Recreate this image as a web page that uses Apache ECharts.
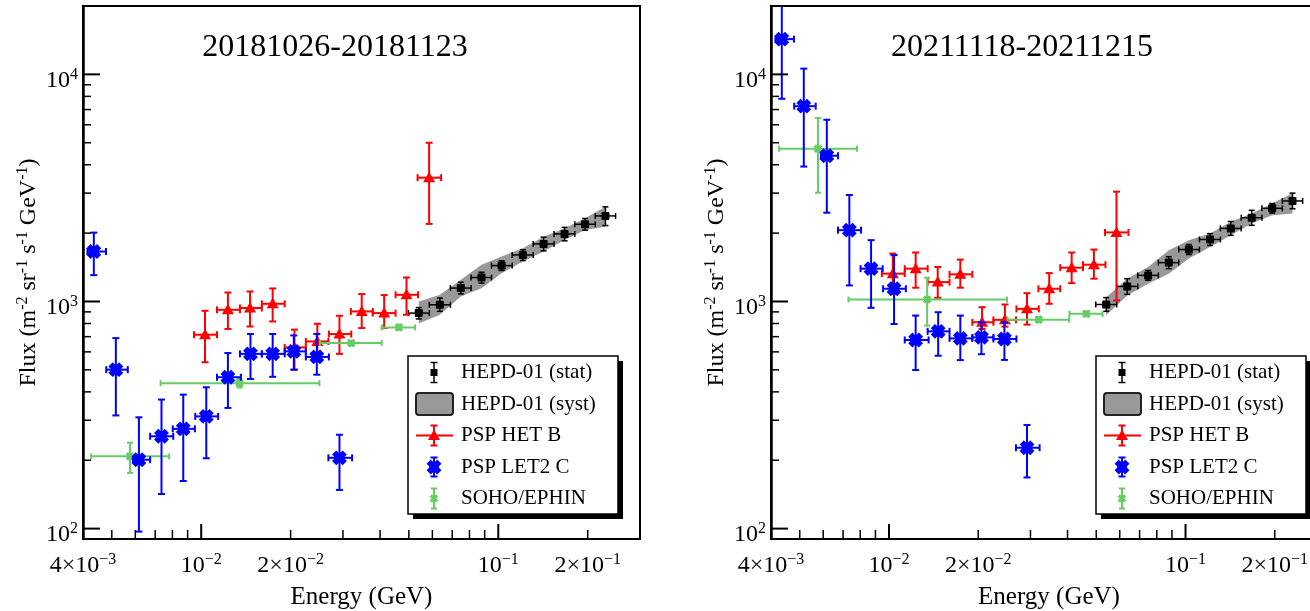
<!DOCTYPE html>
<html>
<head>
<meta charset="utf-8">
<script src="https://cdn.jsdelivr.net/npm/echarts/dist/echarts.min.js"></script>
<style>
html,body{margin:0;padding:0;background:#fff;}
#chart{width:1310px;height:611px;}
</style>
</head>
<body>
<div id="chart"></div>
<script>
// ---------------- DATA ----------------
const panelTitles = ['20181026-20181123', '20211118-20211215'];
const legendLabels = ['HEPD-01 (stat)', 'HEPD-01 (syst)', 'PSP HET B', 'PSP LET2 C', 'SOHO/EPHIN'];

const xTickLabelValues = [0.004, 0.01, 0.02, 0.1, 0.2];
const xMajorTickValues = [0.01, 0.1];
const xMinorTickValues = [0.005, 0.006, 0.007, 0.008, 0.009, 0.02, 0.03, 0.04, 0.05, 0.06, 0.07, 0.08, 0.09, 0.2];
const yTickLabelValues = [100, 1000, 10000];
const yMajorTickValues = [100, 1000, 10000];
const yMinorTickValues = [200, 300, 400, 500, 600, 700, 800, 900, 2000, 3000, 4000, 5000, 6000, 7000, 8000, 9000];

// HEPD-01 energy bins (GeV)
const hepdE   = [0.0540, 0.0636, 0.0748, 0.0878, 0.1026, 0.1210, 0.1421, 0.1672, 0.1960, 0.2295];
const hepdElo = [0.0498, 0.0586, 0.0690, 0.0810, 0.0949, 0.1114, 0.1311, 0.1541, 0.1810, 0.2121];
const hepdEhi = [0.0586, 0.0690, 0.0810, 0.0949, 0.1114, 0.1311, 0.1541, 0.1810, 0.2121, 0.2483];
// 2018 panel
const hepdF_2018      = [889, 967, 1146, 1275, 1439, 1603, 1793, 1984, 2188, 2381];
const hepdStatLo_2018 = [838, 905, 1080, 1205, 1370, 1515, 1670, 1850, 2060, 2160];
const hepdStatHi_2018 = [940, 1035, 1215, 1345, 1510, 1690, 1920, 2120, 2320, 2610];
const hepdSystLo_2018 = [800, 874, 1052, 1145, 1333, 1499, 1658, 1867, 2066, 2136];
const hepdSystHi_2018 = [1000, 1070, 1246, 1450, 1577, 1717, 1930, 2101, 2324, 2616];
// 2021 panel
const hepdF_2021      = [970, 1165, 1303, 1483, 1693, 1875, 2098, 2337, 2572, 2770];
const hepdStatLo_2021 = [905, 1075, 1240, 1395, 1610, 1765, 1955, 2165, 2450, 2560];
const hepdStatHi_2021 = [1040, 1260, 1370, 1575, 1780, 1990, 2250, 2520, 2700, 3000];
const hepdSystLo_2021 = [870, 1063, 1198, 1326, 1545, 1738, 1958, 2206, 2400, 2443];
const hepdSystHi_2021 = [1045, 1260, 1419, 1681, 1861, 1994, 2245, 2443, 2702, 2994];

// PSP HET B
const hetE   = [0.0103, 0.0123, 0.0146, 0.0174, 0.0206, 0.0246, 0.0292, 0.0347, 0.0413, 0.0491, 0.0585];
const hetElo = [0.00946, 0.0113, 0.0135, 0.0160, 0.0191, 0.0225, 0.0269, 0.0319, 0.0378, 0.0451, 0.0535];
const hetEhi = [0.0113, 0.0135, 0.0160, 0.0191, 0.0225, 0.0268, 0.0320, 0.0378, 0.0451, 0.0537, 0.0642];
const hetF_2018  = [714, 919, 936, 977, 628, 667, 719, 904, 889, 1070, 3508];
const hetLo_2018 = [540, 757, 776, 817, 501, 566, 588, 764, 764, 874, 2196];
const hetHi_2018 = [910, 1095, 1107, 1141, 752, 798, 865, 1078, 1067, 1275, 5000];
const hetF_2021  = [1326, 1395, 1217, 1317, 810, 830, 928, 1138, 1409, 1452, 2014];
const hetLo_2021 = [1081, 1150, 1038, 1150, 757, 775, 791, 977, 1205, 1260, 1010];
const hetHi_2021 = [1626, 1643, 1419, 1529, 944, 970, 1088, 1334, 1643, 1693, 3045];

// PSP LET2 C
const letE   = [0.00435, 0.00516, 0.00617, 0.00735, 0.0087, 0.0104, 0.0123, 0.01465, 0.0174, 0.0205, 0.0245, 0.0292];
const letElo = [0.00414, 0.00479, 0.00589, 0.00673, 0.00802, 0.00955, 0.0113, 0.0135, 0.0160, 0.0191, 0.0225, 0.0268];
const letEhi = [0.00478, 0.00566, 0.00673, 0.00805, 0.00952, 0.0114, 0.0136, 0.0160, 0.0191, 0.0225, 0.0269, 0.0322];
const letF_2018  = [1660, 501, 201, 255, 275, 312, 464, 588, 588, 603, 570, 205];
const letLo_2018 = [1306, 315, 97, 142, 162, 204, 340, 456, 466, 501, 476, 148];
const letHi_2018 = [2010, 690, 309, 370, 389, 419, 593, 719, 719, 709, 719, 259];
const letF_2021  = [14290, 7246, 4381, 2061, 1395, 1138, 677, 739, 688, 695, 684, 227];
const letLo_2021 = [7808, 3927, 2460, 1177, 938, 796, 499, 577, 552, 586, 553, 168];
const letHi_2021 = [26000, 10600, 6313, 2944, 1862, 1600, 867, 897, 867, 810, 810, 286];

// SOHO/EPHIN
const sohoE   = [0.00576, 0.01345, 0.0320, 0.0463];
const sohoElo = [0.00426, 0.0073, 0.0251, 0.0406];
const sohoEhi = [0.0078, 0.0250, 0.0405, 0.0525];
const sohoF_2018  = [208, 437, 656, 769];
const sohoLo_2018 = [176, 418, 640, 750];
const sohoHi_2018 = [239, 456, 672, 790];
const sohoF_2021  = [4706, 1020, 832, 882];
const sohoLo_2021 = [3013, 783, 810, 862];
const sohoHi_2021 = [6428, 1273, 855, 905];

// ---------------- STYLE / HELPERS ----------------
const FONT = 'Liberation Serif';
const RED = '#ff0000', BLUE = '#0000ff', GREEN = '#66cc66', BLACK = '#000000', BAND = '#999999';

function sciLabel(v) {
  const e = Math.floor(Math.log10(v) + 1e-9);
  const m = Math.round(v / Math.pow(10, e));
  const base = m === 1 ? '10' : m + '×10';
  const exp = e < 0 ? '−' + (-e) : String(e);
  return '{b|' + base + '}{s|' + exp + '}';
}
const tickRich = {
  b: {fontFamily: FONT, fontSize: 24, lineHeight: 28, color: '#000'},
  s: {fontFamily: FONT, fontSize: 16, lineHeight: 14, verticalAlign: 'top', color: '#000'}
};

function items(E, Elo, Ehi, F, Flo, Fhi) {
  return E.map((e, i) => [e, F[i], Elo[i], Ehi[i], Flo[i], Fhi[i]]);
}

function xcross(cx, cy, r, a, color) {
  const base = [[a, r], [-a, r], [-a, a], [-r, a], [-r, -a], [-a, -a], [-a, -r], [a, -r], [a, -a], [r, -a], [r, a], [a, a]];
  const c = Math.SQRT1_2;
  const pts = base.map(p => [cx + (p[0] - p[1]) * c, cy + (p[0] + p[1]) * c]);
  return {type: 'polygon', shape: {points: pts}, style: {fill: color}};
}
function marker(kind, cx, cy, color) {
  if (kind === 'square') {
    return [{type: 'rect', shape: {x: cx - 4, y: cy - 4, width: 8, height: 8, r: 1}, style: {fill: color}}];
  }
  if (kind === 'triangle') {
    return [{type: 'polygon', shape: {points: [[cx, cy - 6], [cx + 6, cy + 4.5], [cx - 6, cy + 4.5]]}, style: {fill: color}}];
  }
  if (kind === 'blob') {
    return [xcross(cx, cy, 7.5, 3, color), {type: 'circle', shape: {cx: cx, cy: cy, r: 5}, style: {fill: color}}];
  }
  return [xcross(cx, cy, 4.5, 1.6, color)];
}

function makeErrRender(color, kind, lw, cap) {
  return function (params, api) {
    const E = api.value(0), F = api.value(1);
    const c = api.coord([E, F]);
    const xl = api.coord([api.value(2), F])[0];
    const xh = api.coord([api.value(3), F])[0];
    const yt = api.coord([E, api.value(5)])[1];
    const yb = api.coord([E, api.value(4)])[1];
    const ls = {stroke: color, lineWidth: lw};
    const ch = [
      {type: 'line', shape: {x1: xl, y1: c[1], x2: xh, y2: c[1]}, style: ls},
      {type: 'line', shape: {x1: xl, y1: c[1] - cap, x2: xl, y2: c[1] + cap}, style: ls},
      {type: 'line', shape: {x1: xh, y1: c[1] - cap, x2: xh, y2: c[1] + cap}, style: ls},
      {type: 'line', shape: {x1: c[0], y1: yt, x2: c[0], y2: yb}, style: ls},
      {type: 'line', shape: {x1: c[0] - cap, y1: yt, x2: c[0] + cap, y2: yt}, style: ls},
      {type: 'line', shape: {x1: c[0] - cap, y1: yb, x2: c[0] + cap, y2: yb}, style: ls}
    ].concat(marker(kind, c[0], c[1], color));
    return {type: 'group', children: ch};
  };
}

function makeBandRender(E, lo, hi) {
  return function (params, api) {
    if (params.dataIndex !== 0) return null;
    const pts = [];
    for (let i = 0; i < E.length; i++) pts.push(api.coord([E[i], hi[i]]));
    for (let i = E.length - 1; i >= 0; i--) pts.push(api.coord([E[i], lo[i]]));
    return {type: 'polygon', shape: {points: pts}, style: {fill: BAND, stroke: null}};
  };
}

// tick marks drawn through the axis scales (custom series on each grid)
function makeTickRender(axisDim, values, len, lw) {
  return function (params, api) {
    if (params.dataIndex !== 0) return null;
    const ch = [];
    values.forEach(v => {
      if (axisDim === 'x') {
        const p = api.coord([v, YMIN]);
        ch.push({type: 'line', shape: {x1: p[0], y1: p[1], x2: p[0], y2: p[1] - len}, style: {stroke: '#000', lineWidth: lw}});
      } else {
        const p = api.coord([XMIN, v]);
        ch.push({type: 'line', shape: {x1: p[0], y1: p[1], x2: p[0] + len, y2: p[1]}, style: {stroke: '#000', lineWidth: lw}});
      }
    });
    return {type: 'group', children: ch};
  };
}

const panels = [
  {hepd: [hepdF_2018, hepdStatLo_2018, hepdStatHi_2018, hepdSystLo_2018, hepdSystHi_2018],
   het: [hetF_2018, hetLo_2018, hetHi_2018], let: [letF_2018, letLo_2018, letHi_2018], soho: [sohoF_2018, sohoLo_2018, sohoHi_2018]},
  {hepd: [hepdF_2021, hepdStatLo_2021, hepdStatHi_2021, hepdSystLo_2021, hepdSystHi_2021],
   het: [hetF_2021, hetLo_2021, hetHi_2021], let: [letF_2021, letLo_2021, letHi_2021], soho: [sohoF_2021, sohoLo_2021, sohoHi_2021]}
];

const gridDefs = [
  {left: 83, top: 6, width: 557, height: 533},
  {left: 771, top: 6, width: 556, height: 533}
];

const xAxes = [], yAxes = [], series = [], titles = [], graphics = [];
const XMIN = 0.004, XMAX = 0.3, YMIN = 90, YMAX = 20000;

gridDefs.forEach((g, p) => {
  xAxes.push({
    gridIndex: p, type: 'log', logBase: 10, min: XMIN, max: XMAX, position: 'bottom',
    axisLine: {show: true, lineStyle: {color: '#000', width: 2}}, splitLine: {show: false},
    axisTick: {show: false},
    axisLabel: {show: true, customValues: xTickLabelValues, formatter: v => sciLabel(v), rich: tickRich, margin: 13, color: '#000'},
    name: 'Energy (GeV)', nameLocation: 'middle', nameGap: 46,
    nameTextStyle: {fontFamily: FONT, fontSize: 25, color: '#000'}
  });
  yAxes.push({
    gridIndex: p, type: 'log', logBase: 10, min: YMIN, max: YMAX, position: 'left',
    axisLine: {show: true, lineStyle: {color: '#000', width: 2.5}}, splitLine: {show: false},
    axisTick: {show: false},
    axisLabel: {show: true, customValues: yTickLabelValues, formatter: v => sciLabel(v), rich: tickRich, margin: 5, padding: [12, 0, 0, 0], color: '#000'},
    name: '{b|Flux (m}{s|-2}{b| sr}{s|-1}{b| s}{s|-1}{b| GeV}{s|-1}{b|)}',
    nameLocation: 'middle', nameRotate: 90, nameGap: 40,
    nameTextStyle: {fontFamily: FONT, fontSize: 24, color: '#000', rich: {
      b: {fontFamily: FONT, fontSize: 24, lineHeight: 28, color: '#000'},
      s: {fontFamily: FONT, fontSize: 16, lineHeight: 14, verticalAlign: 'top', color: '#000'}
    }}
  });

  const d = panels[p];
  const common = {type: 'custom', xAxisIndex: p, yAxisIndex: p, clip: true, encode: {x: [0, 2, 3], y: [1, 4, 5]}, silent: true};
  series.push(Object.assign({}, common, {
    name: legendLabels[1], data: items(hepdE, hepdElo, hepdEhi, d.hepd[0], d.hepd[3], d.hepd[4]),
    renderItem: makeBandRender(hepdE, d.hepd[3], d.hepd[4])
  }));
  series.push(Object.assign({}, common, {
    name: legendLabels[0], data: items(hepdE, hepdElo, hepdEhi, d.hepd[0], d.hepd[1], d.hepd[2]),
    renderItem: makeErrRender(BLACK, 'square', 1.5, 3)
  }));
  series.push(Object.assign({}, common, {
    name: legendLabels[2], data: items(hetE, hetElo, hetEhi, d.het[0], d.het[1], d.het[2]),
    renderItem: makeErrRender(RED, 'triangle', 2, 3.5)
  }));
  series.push(Object.assign({}, common, {
    name: legendLabels[4], data: items(sohoE, sohoElo, sohoEhi, d.soho[0], d.soho[1], d.soho[2]),
    renderItem: makeErrRender(GREEN, 'star', 2, 3)
  }));
  series.push(Object.assign({}, common, {
    name: legendLabels[3], data: items(letE, letElo, letEhi, d.let[0], d.let[1], d.let[2]),
    renderItem: makeErrRender(BLUE, 'blob', 2, 3.5)
  }));
  const tickCommon = {type: 'custom', xAxisIndex: p, yAxisIndex: p, clip: false, silent: true, data: [[XMIN, YMIN]], encode: {x: 0, y: 1}, z: 5};
  series.push(Object.assign({}, tickCommon, {name: 'xMajorTicks' + p, renderItem: makeTickRender('x', xMajorTickValues, 15, 2)}));
  series.push(Object.assign({}, tickCommon, {name: 'xMinorTicks' + p, renderItem: makeTickRender('x', xMinorTickValues, 9, 1.5)}));
  series.push(Object.assign({}, tickCommon, {name: 'yMajorTicks' + p, renderItem: makeTickRender('y', yMajorTickValues, 17, 2)}));
  series.push(Object.assign({}, tickCommon, {name: 'yMinorTicks' + p, renderItem: makeTickRender('y', yMinorTickValues, 8, 1.5)}));

  titles.push({
    text: panelTitles[p], left: p === 0 ? 335 : 1022, top: 32, textAlign: 'center', padding: 0,
    textStyle: {fontFamily: FONT, fontSize: 32, fontWeight: 'normal', color: '#000'}
  });
});

// legend boxes
function buildLegend(x0, y0) {
  const W = 210, H = 158, ix = 26, tx = 53;
  const rows = [16.5, 48, 79.5, 111, 142.5];
  const ch = [
    {type: 'rect', shape: {x: 5, y: 5, width: W, height: H}, style: {fill: '#000'}},
    {type: 'rect', shape: {x: 0, y: 0, width: W, height: H}, style: {fill: '#fff', stroke: '#000', lineWidth: 1.5}}
  ];
  function vbar(y, color, lw, half, cap) {
    return [
      {type: 'line', shape: {x1: ix, y1: y - half, x2: ix, y2: y + half}, style: {stroke: color, lineWidth: lw}},
      {type: 'line', shape: {x1: ix - cap, y1: y - half, x2: ix + cap, y2: y - half}, style: {stroke: color, lineWidth: lw}},
      {type: 'line', shape: {x1: ix - cap, y1: y + half, x2: ix + cap, y2: y + half}, style: {stroke: color, lineWidth: lw}}
    ];
  }
  ch.push(...vbar(rows[0], BLACK, 1.5, 10, 3.5));
  ch.push({type: 'rect', shape: {x: ix - 3.5, y: rows[0] - 3.5, width: 7, height: 7}, style: {fill: BLACK}});
  ch.push({type: 'rect', shape: {x: ix - 18, y: rows[1] - 11, width: 37, height: 22, r: 3}, style: {fill: BAND, stroke: '#222', lineWidth: 2}});
  ch.push({type: 'line', shape: {x1: ix - 18, y1: rows[2], x2: ix + 19, y2: rows[2]}, style: {stroke: RED, lineWidth: 2}});
  ch.push(...vbar(rows[2], RED, 2, 10, 3.5));
  ch.push(...marker('triangle', ix, rows[2], RED));
  ch.push(...vbar(rows[3], BLUE, 2, 9.5, 3.5));
  ch.push(...marker('blob', ix, rows[3], BLUE));
  ch.push(...vbar(rows[4], GREEN, 2, 10, 3));
  ch.push(...marker('star', ix, rows[4], GREEN));
  legendLabels.forEach((t, i) => {
    ch.push({type: 'text', x: tx, y: rows[i], style: {text: t, fontFamily: FONT, fontSize: 21, fill: '#000', align: 'left', verticalAlign: 'middle'}});
  });
  return {type: 'group', x: x0, y: y0, children: ch, silent: true};
}
graphics.push(buildLegend(408, 356));
graphics.push(buildLegend(1096, 356));

const option = {
  backgroundColor: '#ffffff',
  animation: false,
  title: titles,
  grid: gridDefs.map(g => Object.assign({show: true, borderColor: '#000', borderWidth: 2, backgroundColor: 'transparent', containLabel: false, outerBoundsMode: 'none'}, g)),
  xAxis: xAxes,
  yAxis: yAxes,
  series: series,
  graphic: graphics
};

const chart = echarts.init(document.getElementById('chart'), null, {renderer: 'canvas'});
chart.setOption(option);
</script>
</body>
</html>
